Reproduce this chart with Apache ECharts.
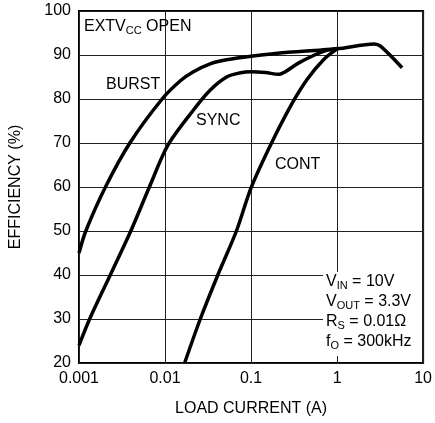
<!DOCTYPE html>
<html><head><meta charset="utf-8">
<script src="https://cdn.jsdelivr.net/npm/echarts@6/dist/echarts.min.js"></script>
<style>html,body{margin:0;padding:0;background:#fff}#c{width:435px;height:423px}</style>
</head><body><div id="c"></div>
<script>
const burstX = [0.001, 0.0012, 0.00203, 0.0039, 0.00925, 0.0152, 0.0214, 0.0334, 0.052, 0.1, 0.27, 1, 2.7, 3.2, 5.7];
const burstY = [45, 50, 60, 70, 80, 84.2, 86.2, 88, 88.9, 89.7, 90.6, 91.4, 92.5, 92, 87.1];
const syncX = [0.001, 0.00133, 0.00231, 0.004, 0.00658, 0.0108, 0.0214, 0.0334, 0.052, 0.0731, 0.1, 0.148, 0.208, 0.25, 0.351, 0.548, 0.769, 1];
const syncY = [24, 30, 40, 50, 60, 69.5, 77.5, 82, 85, 85.9, 86.2, 86, 85.6, 86.2, 88.1, 90, 91.1, 91.5];
const contX = [0.0169, 0.0257, 0.0411, 0.0676, 0.1, 0.173, 0.3, 0.45, 0.7, 1];
const contY = [20, 30, 40, 50, 59.8, 70, 79, 84.5, 89, 91.4];
const xTicks = ['0.001', '0.01', '0.1', '1', '10'];
const yMin = 20, yMax = 100, yStep = 10;

const FONT = "'Liberation Sans',Arial,sans-serif";
const FS = 16;
const pair = (xs, ys) => xs.map((x, i) => [x, ys[i]]);
const lineStyle = {color: '#000', width: 3.5};
const mk = (name, xs, ys) => ({name, type: 'line', data: pair(xs, ys), showSymbol: false, smooth: 0.3, lineStyle, z: 5});

const chart = echarts.init(document.getElementById('c'));
const base = {fontFamily: FONT, fontSize: FS, fill: '#000'};
const sub = {fontSize: 11, fontFamily: FONT, padding: [8, 0, 0, 0]};
chart.setOption({
  animation: false,
  grid: {left: 76, right: 7, top: 11, bottom: 60, show: true, borderColor: '#000', borderWidth: 2, backgroundColor: 'transparent'},
  xAxis: {
    type: 'log', logBase: 10, min: 0.001, max: 10,
    name: 'LOAD CURRENT (A)', nameLocation: 'middle', nameGap: 38,
    nameTextStyle: {fontFamily: FONT, fontSize: FS, color: '#000'},
    axisLine: {show: false}, axisTick: {show: false},
    axisLabel: {fontFamily: FONT, fontSize: FS, color: '#000', margin: 8,
      formatter: v => { const s = xTicks.find(t => Math.abs(parseFloat(t) - v) / v < 1e-6); return s || ''; }},
    splitLine: {show: true, lineStyle: {color: '#222', width: 1}},
    minorTick: {show: false}
  },
  yAxis: {
    type: 'value', min: yMin, max: yMax, interval: yStep,
    name: 'EFFICIENCY (%)', nameLocation: 'middle', nameGap: 55,
    nameTextStyle: {fontFamily: FONT, fontSize: FS, color: '#000'},
    axisLine: {show: false}, axisTick: {show: false},
    axisLabel: {fontFamily: FONT, fontSize: FS, color: '#000', margin: 8},
    splitLine: {show: true, lineStyle: {color: '#222', width: 1}}
  },
  series: [mk('BURST', burstX, burstY), mk('SYNC', syncX, syncY), mk('CONT', contX, contY)],
  graphic: [
    {type: 'text', left: 84, top: 19, z: 10, style: {
      text: 'EXTV{s|CC} OPEN', ...base, rich: {s: sub}}},
    {type: 'text', left: 106, top: 77, z: 10, style: {text: 'BURST', ...base}},
    {type: 'text', left: 196, top: 113, z: 10, style: {text: 'SYNC', ...base}},
    {type: 'text', left: 275, top: 157, z: 10, style: {text: 'CONT', ...base}},
    {type: 'rect', shape: {x: 323, y: 272, width: 99, height: 84}, style: {fill: '#fff'}, z: 8},
    {type: 'text', left: 326, top: 272, z: 10, style: {
      text: 'V{s|IN} = 10V\nV{s|OUT} = 3.3V\nR{s|S} = 0.01Ω\nf{s|O} = 300kHz',
      ...base, lineHeight: 20, rich: {s: sub}}}
  ]
});
</script></body></html>
